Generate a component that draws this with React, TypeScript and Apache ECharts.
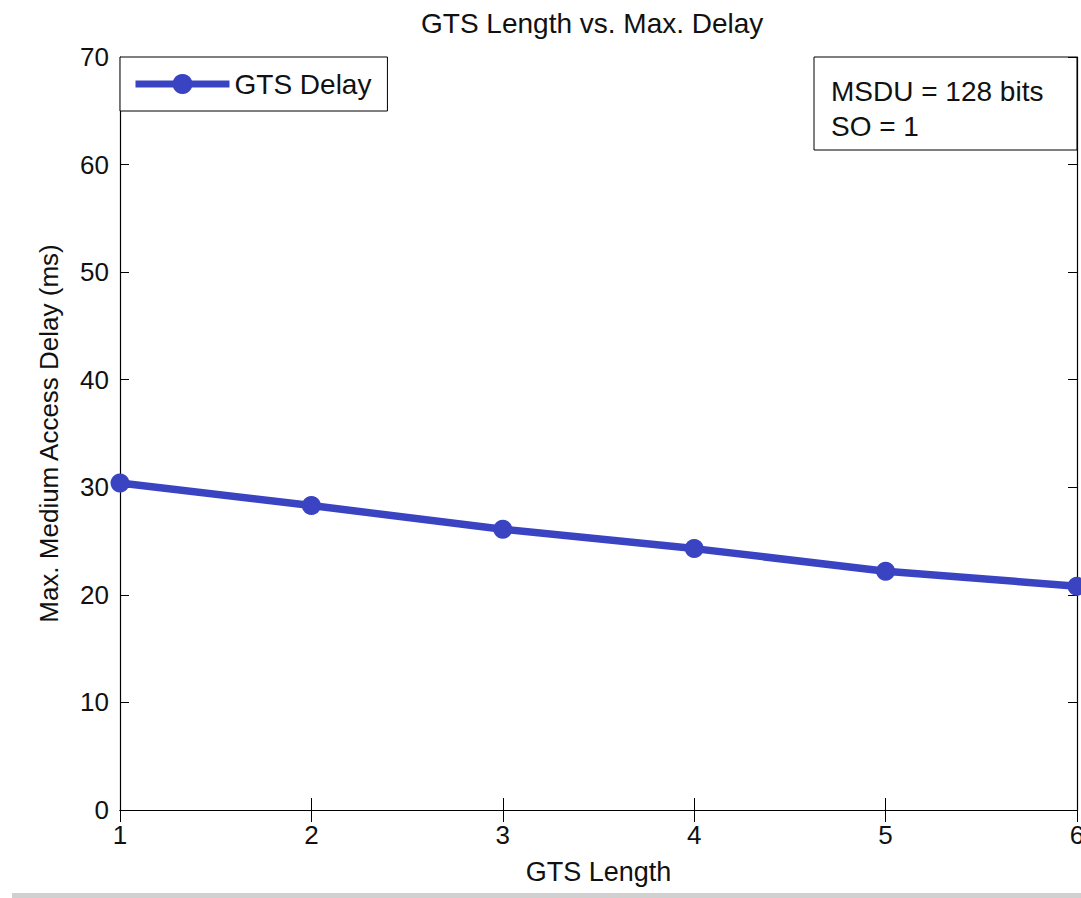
import React, { useEffect, useRef } from "react";
import * as echarts from "echarts";

const gtsLength = [1, 2, 3, 4, 5, 6];
const gtsDelay = [30.4, 28.3, 26.1, 24.3, 22.2, 20.8];
const yTicks = [0, 10, 20, 30, 40, 50, 60, 70];
const xTicks = [1, 2, 3, 4, 5, 6];
const titleText = "GTS Length vs. Max. Delay";
const xName = "GTS Length";
const yName = "Max. Medium Access Delay (ms)";
const seriesName = "GTS Delay";
const noteLines = ["MSDU = 128 bits", "SO = 1"];

const FONT = "'Liberation Sans', Arial, Helvetica, sans-serif";
const BLUE = "#3a44c2";

export default function App() {
  const ref = useRef<HTMLDivElement>(null);
  useEffect(() => {
    if (!ref.current) return;
    const chart = echarts.init(ref.current, null, { renderer: "svg" });
    const axisLine = { show: true, lineStyle: { color: "#000", width: 1.2 } };
    const option: any = {
      animation: false,
      backgroundColor: "#fff",
      textStyle: { fontFamily: FONT },
      title: {
        text: titleText,
        left: 421,
        top: 9,
        padding: 0,
        textStyle: { fontSize: 28, fontWeight: "normal", color: "#111", fontFamily: FONT },
      },
      grid: { left: 120, right: 4, top: 57, bottom: 88, outerBoundsMode: "none", containLabel: false },
      legend: {
        data: [seriesName],
        left: 120,
        top: 57,
        orient: "vertical",
        padding: [13, 16, 13, 12],
        itemWidth: 94,
        itemHeight: 25,
        borderColor: "#000",
        borderWidth: 1,
        borderRadius: 0,
        backgroundColor: "#fff",
        lineStyle: { width: 7 },
        textStyle: { fontSize: 28, color: "#111", fontFamily: FONT },
      },
      xAxis: [
        {
          type: "value",
          min: xTicks[0],
          max: xTicks[xTicks.length - 1],
          interval: 1,
          name: xName,
          nameLocation: "middle",
          nameGap: 48,
          nameTextStyle: { fontSize: 27, color: "#111", fontFamily: FONT },
          axisLine,
          axisTick: { show: true, inside: true, length: 12, lineStyle: { color: "#000" } },
          axisLabel: { fontSize: 26, color: "#111", margin: 12, fontFamily: FONT },
          splitLine: { show: false },
        },
        {
          type: "value",
          position: "top",
          min: xTicks[0],
          max: xTicks[xTicks.length - 1],
          interval: 1,
          axisLine,
          axisTick: { show: true, inside: true, length: 12, lineStyle: { color: "#000" } },
          axisLabel: { show: false },
          splitLine: { show: false },
        },
      ],
      yAxis: [
        {
          type: "value",
          min: yTicks[0],
          max: yTicks[yTicks.length - 1],
          interval: 10,
          name: yName,
          nameLocation: "middle",
          nameGap: 58,
          nameTextStyle: { fontSize: 26, color: "#111", fontFamily: FONT },
          axisLine,
          axisTick: { show: true, inside: true, length: 9, lineStyle: { color: "#000" } },
          axisLabel: { fontSize: 26, color: "#111", margin: 11, fontFamily: FONT },
          splitLine: { show: false },
        },
        {
          type: "value",
          position: "right",
          min: yTicks[0],
          max: yTicks[yTicks.length - 1],
          interval: 10,
          axisLine,
          axisTick: { show: true, inside: true, length: 9, lineStyle: { color: "#000" } },
          axisLabel: { show: false },
          splitLine: { show: false },
        },
      ],
      series: [
        {
          name: seriesName,
          type: "line",
          xAxisIndex: 0,
          yAxisIndex: 0,
          data: gtsLength.map((x, i) => [x, gtsDelay[i]]),
          symbol: "circle",
          symbolSize: 19,
          lineStyle: { color: BLUE, width: 7.5 },
          itemStyle: { color: BLUE },
          clip: false,
          z: 3,
        },
      ],
      graphic: [
        {
          type: "group",
          z: 100,
          children: [
            {
              type: "rect",
              shape: { x: 814, y: 57, width: 263, height: 93 },
              style: { fill: "#fff", stroke: "#000", lineWidth: 1 },
            },
            {
              type: "text",
              x: 831,
              y: 73.5,
              style: {
                text: noteLines.join("\n"),
                fontSize: 28,
                fontFamily: FONT,
                fill: "#111",
                lineHeight: 35,
                verticalAlign: "top",
              },
            },
          ],
        },
        {
          type: "rect",
          shape: { x: 12, y: 893, width: 1069, height: 5 },
          style: { fill: "#d0d0d0" },
        },
      ],
    };
    chart.setOption(option);
    return () => chart.dispose();
  }, []);
  return (
    <div
      ref={ref}
      style={{ position: "absolute", left: 0, top: 0, width: 1081, height: 898 }}
    />
  );
}
